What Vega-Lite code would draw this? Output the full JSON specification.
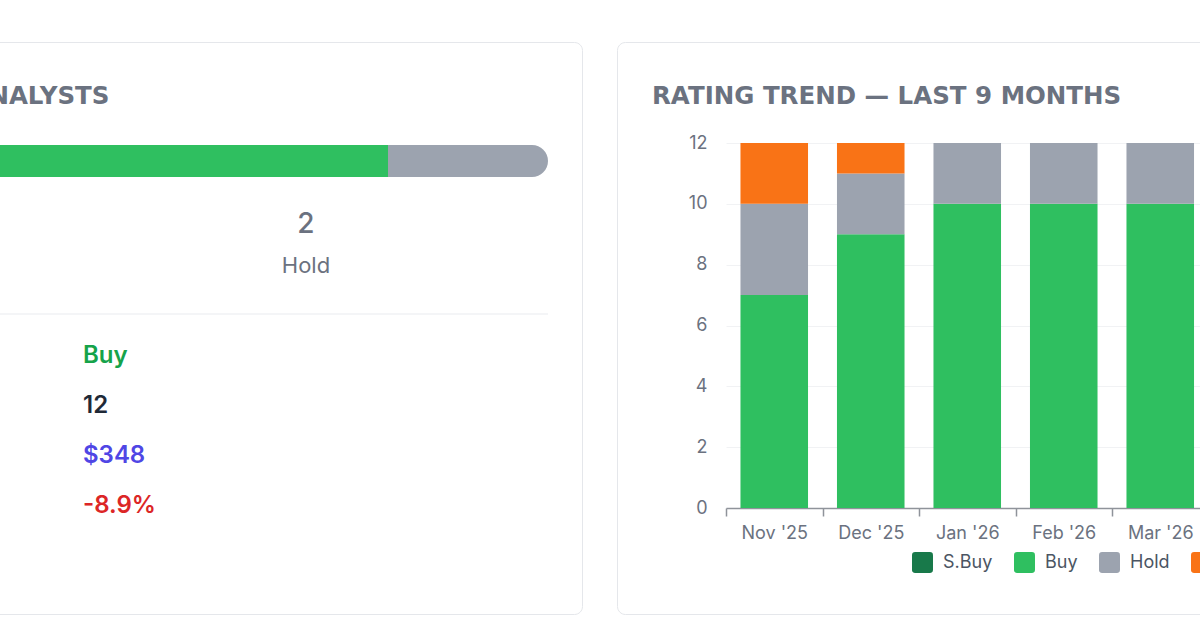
{
  "$schema": "https://vega.github.io/schema/vega-lite/v6.json",
  "background": "white",
  "padding": {"left": -447, "top": 41, "right": -501, "bottom": 15},
  "spacing": 33,
  "datasets": {
    "distribution": [
      {"rating": "S.Buy", "score": 1, "count": 0},
      {"rating": "Buy", "score": 2, "count": 10},
      {"rating": "Hold", "score": 3, "count": 2},
      {"rating": "Sell", "score": 4, "count": 0},
      {"rating": "S.Sell", "score": 5, "count": 0}
    ],
    "stats": [
      {"metric": "Consensus", "value": "Buy"},
      {"metric": "Analysts", "value": "12"},
      {"metric": "Avg Target", "value": "$348"},
      {"metric": "Upside", "value": "-8.9%"}
    ],
    "trend": [
      {"month": "Nov '25", "rating": "Buy", "score": 2, "count": 7},
      {"month": "Nov '25", "rating": "Hold", "score": 3, "count": 3},
      {"month": "Nov '25", "rating": "Sell", "score": 4, "count": 2},
      {"month": "Dec '25", "rating": "Buy", "score": 2, "count": 9},
      {"month": "Dec '25", "rating": "Hold", "score": 3, "count": 2},
      {"month": "Dec '25", "rating": "Sell", "score": 4, "count": 1},
      {"month": "Jan '26", "rating": "Buy", "score": 2, "count": 10},
      {"month": "Jan '26", "rating": "Hold", "score": 3, "count": 2},
      {"month": "Feb '26", "rating": "Buy", "score": 2, "count": 10},
      {"month": "Feb '26", "rating": "Hold", "score": 3, "count": 2},
      {"month": "Mar '26", "rating": "Buy", "score": 2, "count": 10},
      {"month": "Mar '26", "rating": "Hold", "score": 3, "count": 2},
      {"month": "Apr '26", "rating": "Buy", "score": 2, "count": 10},
      {"month": "Apr '26", "rating": "Hold", "score": 3, "count": 2},
      {"month": "May '26", "rating": "Buy", "score": 2, "count": 10},
      {"month": "May '26", "rating": "Hold", "score": 3, "count": 2},
      {"month": "Jun '26", "rating": "Buy", "score": 2, "count": 10},
      {"month": "Jun '26", "rating": "Hold", "score": 3, "count": 2},
      {"month": "Jul '26", "rating": "Buy", "score": 2, "count": 10},
      {"month": "Jul '26", "rating": "Hold", "score": 3, "count": 2}
    ]
  },
  "hconcat": [
    {
      "width": 1028,
      "height": 572,
      "title": {"text": "ANALYST CONSENSUS — 12 ANALYSTS", "anchor": "start", "frame": "group", "offset": -86, "baseline": "alphabetic", "dx": 31, "font": "DejaVu Sans", "fontSize": 24.5, "fontWeight": "bold", "color": "#6b7280"},
      "layer": [
        {
          "data": {"name": "distribution"},
          "mark": {"type": "bar", "color": "#9ca3af", "cornerRadius": 16, "height": 32, "yOffset": 5},
          "encoding": {
            "x": {"aggregate": "sum", "field": "count", "type": "quantitative", "scale": {"domain": [0, 12], "padding": 34, "nice": false}, "axis": null},
            "y": {"datum": "Distribution", "type": "nominal", "scale": {"type": "point", "domain": ["Distribution", "Counts", "Labels", "Separator", "Consensus", "Analysts", "Avg Target", "Upside"], "range": [114, 464], "padding": 0}, "axis": null}
          }
        },
        {
          "data": {"name": "distribution"},
          "transform": [{"filter": "datum.score < 3"}],
          "mark": {"type": "bar", "cornerRadiusTopLeft": 16, "cornerRadiusBottomLeft": 16, "height": 32, "yOffset": 5},
          "encoding": {
            "x": {"field": "count", "type": "quantitative", "stack": "zero", "scale": {"domain": [0, 12], "padding": 34, "nice": false}, "axis": null},
            "y": {"datum": "Distribution", "type": "nominal", "axis": null},
            "color": {"field": "rating", "type": "nominal", "scale": {"domain": ["S.Buy", "Buy", "Hold", "Sell", "S.Sell"], "range": ["#18794a", "#2fbf60", "#9ca3af", "#f97316", "#dc2626"]}, "legend": null},
            "order": {"field": "score", "type": "quantitative", "sort": "ascending"}
          }
        },
        {
          "data": {"name": "distribution"},
          "mark": {"type": "bar", "color": "#f1f2f4", "height": 1.5, "yOffset": 8},
          "encoding": {
            "x": {"aggregate": "sum", "field": "count", "type": "quantitative", "scale": {"domain": [0, 12], "padding": 34, "nice": false}, "axis": null},
            "y": {"datum": "Separator", "type": "nominal", "axis": null}
          }
        },
        {
          "data": {"name": "distribution"},
          "transform": [{"filter": "datum.count > 0"}],
          "mark": {"type": "text", "fontSize": 28, "fontWeight": 500, "color": "#6b7280", "baseline": "middle", "dy": 19},
          "encoding": {
            "x": {"field": "rating", "type": "nominal", "scale": {"type": "band", "paddingInner": 0, "paddingOuter": 0.08}, "axis": null},
            "y": {"datum": "Counts", "type": "nominal", "axis": null},
            "text": {"field": "count", "type": "quantitative"}
          }
        },
        {
          "data": {"name": "distribution"},
          "transform": [{"filter": "datum.count > 0"}],
          "mark": {"type": "text", "fontSize": 22, "fontWeight": 400, "color": "#6b7280", "baseline": "middle", "dy": 10},
          "encoding": {
            "x": {"field": "rating", "type": "nominal", "scale": {"type": "band", "paddingInner": 0, "paddingOuter": 0.08}, "axis": null},
            "y": {"datum": "Labels", "type": "nominal", "axis": null},
            "text": {"field": "rating", "type": "nominal"}
          }
        },
        {
          "data": {"name": "stats"},
          "mark": {"type": "text", "align": "left", "baseline": "middle", "dx": -480, "fontSize": 20, "color": "#6b7280"},
          "encoding": {
            "y": {"field": "metric", "type": "nominal", "axis": null},
            "text": {"field": "metric", "type": "nominal"}
          }
        },
        {
          "data": {"name": "stats"},
          "mark": {"type": "text", "align": "left", "baseline": "middle", "dx": 15, "fontSize": 24, "fontWeight": 600},
          "encoding": {
            "y": {"field": "metric", "type": "nominal", "axis": null},
            "text": {"field": "value", "type": "nominal"},
            "color": {"field": "metric", "type": "nominal", "scale": {"domain": ["Consensus", "Analysts", "Avg Target", "Upside"], "range": ["#16a34a", "#1f2937", "#4f46e5", "#dc2626"]}, "legend": null}
          }
        }
      ],
      "resolve": {"scale": {"x": "independent", "color": "independent"}}
    },
    {
      "width": 1086,
      "height": 572,
      "title": {"text": "RATING TREND — LAST 9 MONTHS", "anchor": "start", "frame": "group", "offset": -86, "baseline": "alphabetic", "dx": 35, "font": "DejaVu Sans", "fontSize": 24.5, "fontWeight": "bold", "color": "#6b7280"},
      "data": {"name": "trend"},
      "mark": {"type": "bar"},
      "encoding": {
        "x": {
          "field": "month", "type": "ordinal", "sort": null,
          "scale": {"range": [109, 977.5], "paddingInner": 0.3, "paddingOuter": 0.15},
          "axis": {"title": null, "offset": -106, "labelAngle": 0, "bandPosition": 0.5, "tickOffset": -48.25, "labelOffset": 48.25, "domainColor": "#8f939a", "domainWidth": 1.5, "tickColor": "#8f939a", "tickWidth": 1.5, "tickSize": 8, "labelPadding": 8, "labelFontSize": 18, "labelColor": "#6b7280", "grid": false}
        },
        "y": {
          "field": "count", "type": "quantitative", "stack": "zero",
          "scale": {"domain": [0, 12], "range": [466, 101], "nice": false},
          "axis": {"title": null, "values": [0, 2, 4, 6, 8, 10, 12], "offset": -109, "domain": false, "ticks": false, "tickSize": 0, "labelPadding": 19, "labelFontSize": 18, "labelColor": "#6b7280", "grid": true, "gridColor": "#f1f2f4", "gridWidth": 1}
        },
        "color": {
          "field": "rating", "type": "nominal",
          "scale": {"domain": ["S.Buy", "Buy", "Hold", "Sell", "S.Sell"], "range": ["#18794a", "#2fbf60", "#9ca3af", "#f97316", "#dc2626"]},
          "legend": {"orient": "none", "legendX": 295, "legendY": 510, "direction": "horizontal", "title": null, "symbolType": "M-0.7,-1L0.7,-1Q1,-1 1,-0.7L1,0.7Q1,1 0.7,1L-0.7,1Q-1,1 -1,0.7L-1,-0.7Q-1,-1 -0.7,-1Z", "symbolSize": 441, "symbolStrokeWidth": 0, "symbolOpacity": 1, "labelFontSize": 18, "labelColor": "#4b5563", "labelOffset": 10, "columnPadding": 21}
        },
        "order": {"field": "score", "type": "quantitative", "sort": "ascending"}
      }
    }
  ],
  "resolve": {"scale": {"color": "independent"}, "legend": {"color": "independent"}},
  "config": {
    "font": "Inter",
    "view": {"stroke": "#e5e7eb", "strokeWidth": 1, "cornerRadius": 8, "fill": "white"}
  }
}
